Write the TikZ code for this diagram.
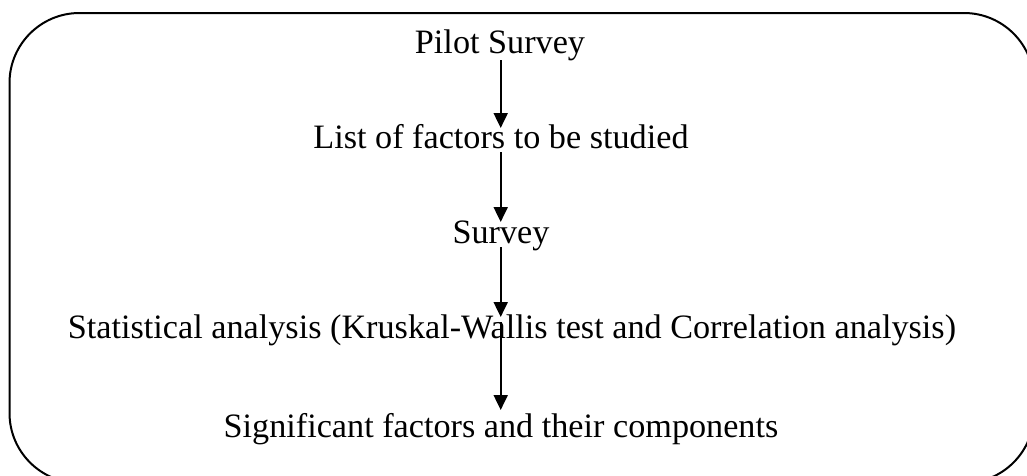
\documentclass[tikz,border=0pt]{standalone}
\usepackage{fontspec}
\setmainfont{Liberation Serif}
\usetikzlibrary{arrows.meta}
\tikzset{
  frame/.style={draw, line width=2pt, rounded corners=70pt},
  label/.style={inner sep=0pt, anchor=base, font=\fontsize{34.2}{40}\selectfont},
  arr/.style={line width=2pt, -{Triangle[length=15pt,width=14pt]}}
}
\begin{document}
\begin{tikzpicture}[x=1pt,y=-1pt]
  \useasboundingbox (0,0) rectangle (1027,475);
  \clip (0,0) rectangle (1027,475);
  \fill[white] (0,0) rectangle (1027,475);
  \draw[frame] (9.5,13) rectangle (1034,483);

  \node[label] (p1) at (500,53)  {Pilot Survey};
  \node[label] (p2) at (501,148) {List of factors to be studied};
  \node[label] (p3) at (501,243) {Survey};
  \node[label] (p4) at (512,338) {Statistical analysis (Kruskal-Wallis test and Correlation analysis)};
  \node[label] (p5) at (501,437) {Significant factors and their components};

  \coordinate (ax) at (500.7,0);
  \draw[arr] ([yshift=-7pt]ax |- p1.base) -- ([yshift=20pt]ax |- p2.base);
  \draw[arr] ([yshift=-4pt]ax |- p2.base) -- ([yshift=21pt]ax |- p3.base);
  \draw[arr] ([yshift=-4pt]ax |- p3.base) -- ([yshift=21pt]ax |- p4.base);
  \draw[arr] ([yshift=16pt]ax |- p4.base) -- ([yshift=27pt]ax |- p5.base);
\end{tikzpicture}
\end{document}
